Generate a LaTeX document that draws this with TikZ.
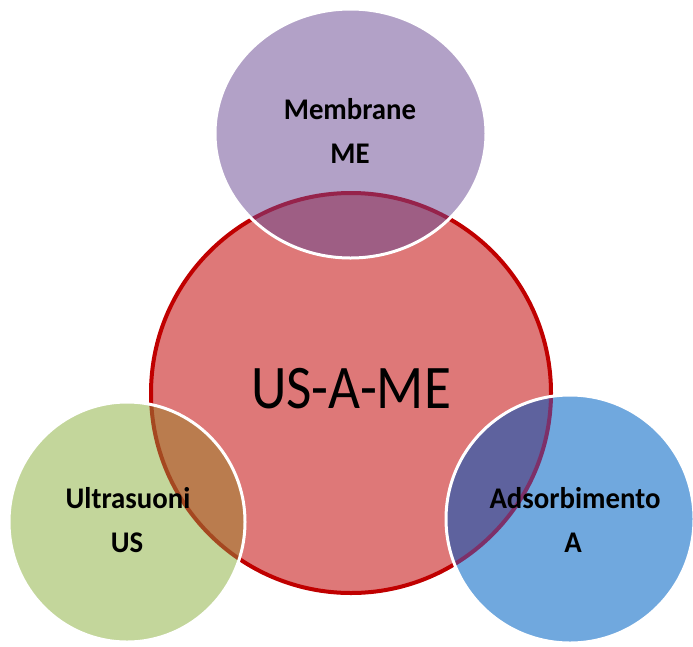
\documentclass[tikz,border=0pt]{standalone}
\usepackage{graphicx}
\usepackage{fontspec}
\setmainfont{Carlito}
\newcommand{\narrowlbl}[1]{\scalebox{0.96}[1]{#1}}
\newcommand{\narrowbig}[1]{\scalebox{0.89}[1]{#1}}
\begin{document}
\begin{tikzpicture}[x=1pt,y=-1pt,
  lbl/.style={font=\fontsize{30}{32}\selectfont\bfseries, anchor=base, inner sep=0pt},
  big/.style={font=\fontsize{62}{68}\selectfont, anchor=base, inner sep=0pt},
  whiteline/.style={draw=white, line width=3pt}]
\definecolor{redfill}{RGB}{222,120,120}
\definecolor{redline}{RGB}{192,0,0}
\definecolor{purp}{RGB}{178,161,199}
\definecolor{grn}{RGB}{195,214,155}
\definecolor{blu}{RGB}{112,168,222}
\definecolor{purpred}{RGB}{158,94,132}
\definecolor{grnred}{RGB}{186,124,78}
\definecolor{blured}{RGB}{94,98,158}
\definecolor{purpline}{RGB}{150,35,75}
\definecolor{grnline}{RGB}{165,72,32}
\definecolor{bluline}{RGB}{125,48,105}
\useasboundingbox (0,0) rectangle (693,646);
\coordinate (cR) at (351,393);
\coordinate (cP) at (350.5,133.5);
\coordinate (cG) at (127,522);
\coordinate (cB) at (570,519);
\def\pathR{(cR) circle[radius=200pt]}
\def\pathP{(cP) ellipse[x radius=135.5pt, y radius=124.5pt]}
\def\pathG{(cG) ellipse[x radius=118pt, y radius=120pt]}
\def\pathB{(cB) circle[radius=124pt]}
% main circle
\fill[redfill] \pathR;
\draw[redline, line width=4pt] \pathR;
% satellites
\fill[purp] \pathP;
\fill[grn] \pathG;
\fill[blu] \pathB;
% overlaps
\begin{scope}
  \clip \pathR;
  \fill[purpred] \pathP;
  \fill[grnred] \pathG;
  \fill[blured] \pathB;
\end{scope}
\begin{scope}\clip \pathP; \draw[purpline, line width=4pt] \pathR; \end{scope}
\begin{scope}\clip \pathG; \draw[grnline, line width=4pt] \pathR; \end{scope}
\begin{scope}\clip \pathB; \draw[bluline, line width=4pt] \pathR; \end{scope}
% white outlines
\draw[whiteline] \pathP;
\draw[whiteline] \pathG;
\draw[whiteline] \pathB;
% texts
\node[big] (main) at (351,408) {\narrowbig{US-A-ME}};
\node[lbl] (mem) at (350,119) {\narrowlbl{Membrane}};
\node[lbl] (me) at (350,163) {\narrowlbl{ME}};
\node[lbl] (ult) at (128,508) {\narrowlbl{Ultrasuoni}};
\node[lbl] (us) at (127,552) {\narrowlbl{US}};
\node[lbl] (ads) at (575,508) {\narrowlbl{Adsorbimento}};
\node[lbl] (a) at (573,552) {\narrowlbl{A}};
\end{tikzpicture}
\end{document}
